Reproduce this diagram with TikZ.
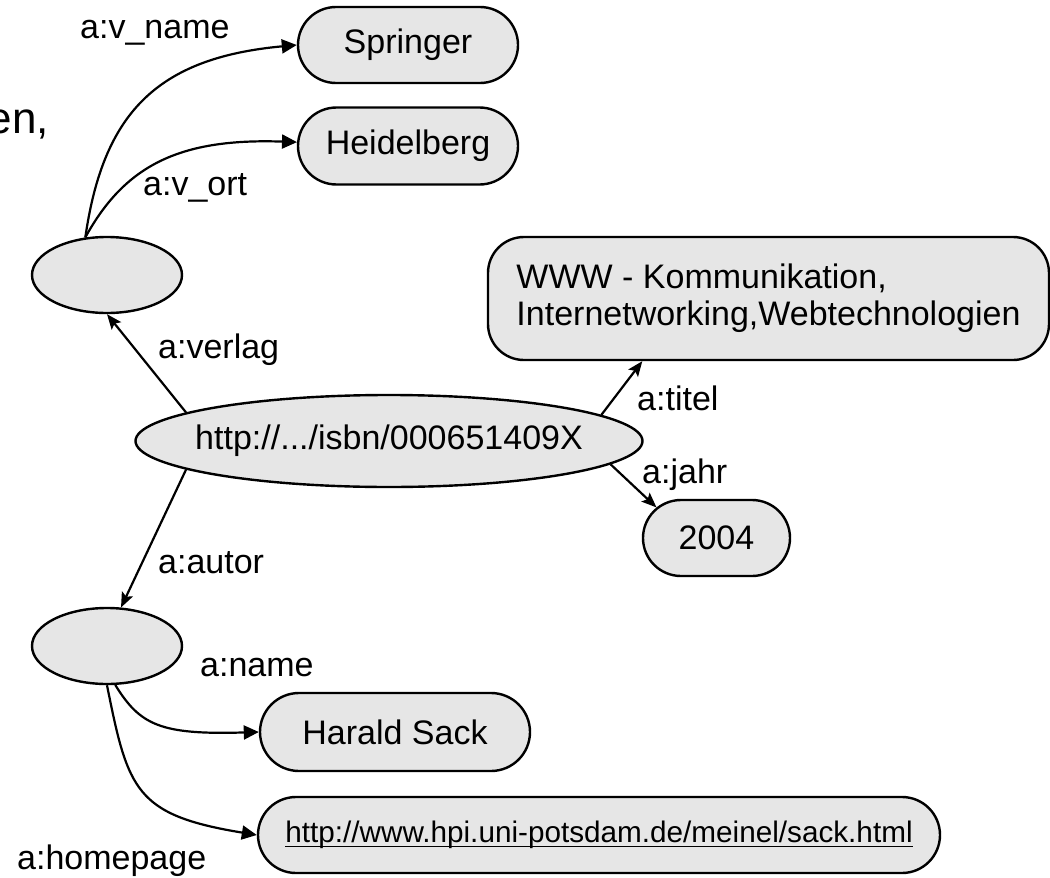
\documentclass[tikz,border=0pt]{standalone}
\usepackage{fontspec}
\setmainfont{Liberation Sans}
\usetikzlibrary{arrows.meta,shapes.geometric,shapes.misc,calc}
\definecolor{nodefill}{HTML}{E6E6E6}
\newcommand{\ulink}[1]{\setbox0=\hbox{#1}\rlap{\rule[-4.5pt]{\wd0}{1.6pt}}\box0}
\begin{document}
\begin{tikzpicture}[x=1pt,y=-1pt,
  lbl/.style={font=\fontsize{34pt}{40pt}\selectfont, inner sep=0pt, anchor=base west},
  pill/.style={rounded rectangle, draw, line width=2.4pt, fill=nodefill, inner sep=0pt, font=\fontsize{34pt}{40pt}\selectfont},
  blank/.style={ellipse, draw, line width=2.4pt, fill=nodefill, inner sep=0pt, minimum width=150pt, minimum height=76pt},
  sarrow/.style={line width=2.2pt, -{Stealth[length=15pt,width=12pt,inset=3pt]}},
  carrow/.style={line width=2.2pt, -{Triangle[length=15pt,width=14pt]}}]
\useasboundingbox (0,0) rectangle (1050,878);

% nodes
\node[pill, minimum width=220pt, minimum height=76pt] (springer) at (408,45) {Springer};
\node[pill, minimum width=220pt, minimum height=77pt] (heid) at (408,146) {Heidelberg};
\node[blank] (vobj) at (107,275) {};
\node[draw, line width=2.4pt, fill=nodefill, rounded corners=36pt, minimum width=561pt, minimum height=123pt, inner sep=0pt, align=left, font=\fontsize{34pt}{37pt}\selectfont] (www) at (768.5,298.5) {WWW - Kommunikation,\\Internetworking,Webtechnologien};
\node[ellipse, draw, line width=2.4pt, fill=nodefill, inner sep=0pt, minimum width=507pt, minimum height=92pt, font=\fontsize{34pt}{40pt}\selectfont] (main) at (389,441) {\makebox[0pt]{http://.../isbn/000651409X}};
\node[pill, minimum width=147pt, minimum height=76pt] (y2004) at (716.5,538) {2004};
\node[blank] (aobj) at (107,646) {};
\node[pill, minimum width=270pt, minimum height=78pt] (harald) at (395,732) {Harald Sack};
\node[pill, minimum width=682pt, minimum height=76pt, font=\fontsize{29.7pt}{34pt}\selectfont] (url) at (599,835) {\ulink{http://www.hpi.uni-potsdam.de/meinel/sack.html}};

% connectors
\draw[carrow] (vobj.120) .. controls (103,115) and (155,58) .. (springer.west);
\draw[carrow] (vobj.120) .. controls (125,165) and (180,138) .. (heid.178);
\draw[sarrow] (main.172.5) -- (vobj.south);
\draw[sarrow] (main.188.8) -- (aobj.70);
\draw[sarrow] (main.7.4) -- ($(www.south west)!0.276!(www.south east)$);
\draw[sarrow] (main.-6.9) -- (y2004.153);
\draw[carrow] (aobj.282) .. controls (140,725) and (160,735) .. (harald.west);
\draw[carrow] (aobj.south) .. controls (128,790) and (135,815) .. (url.west);

% labels
\node[lbl] (lvname) at (80,38) {a:v\_name};
\node[lbl] (lvort) at (143,195) {a:v\_ort};
\node[lbl] (lverlag) at (158,358) {a:verlag};
\node[lbl] (lautor) at (158,573) {a:autor};
\node[lbl] (lname) at (200,676) {a:name};
\node[lbl] (lhome) at (17,869) {a:homepage};
\node[lbl] (ltitel) at (637,410) {a:titel};
\node[lbl] (ljahr) at (642,483) {a:jahr};
\node[font=\fontsize{44pt}{50pt}\selectfont, inner sep=0pt, anchor=base east] (en) at (49,133) {en,};
\end{tikzpicture}
\end{document}
